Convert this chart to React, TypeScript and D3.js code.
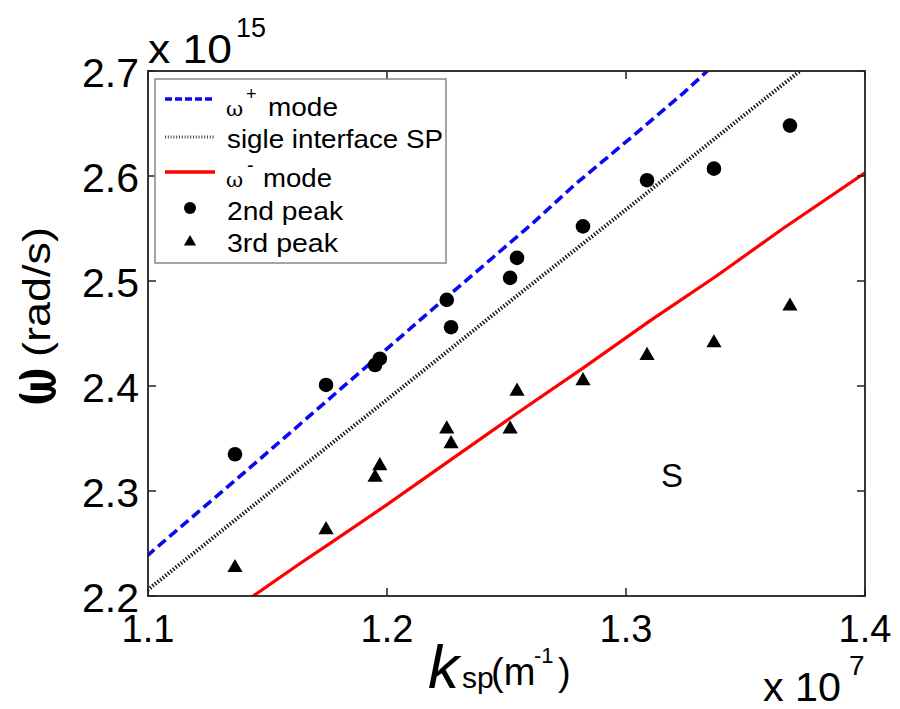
import React from "react";
import * as d3 from "d3";

// ---- data (k in 1e7 m^-1, omega in 1e15 rad/s) ----
const plusK = [1.09, 1.1, 1.14, 1.18, 1.22, 1.26, 1.2787, 1.2987, 1.324, 1.334, 1.34];
const plusW = [2.219, 2.239, 2.317, 2.396, 2.475, 2.553, 2.592, 2.63, 2.679, 2.7, 2.712];

const singleK = [1.09, 1.1, 1.15, 1.2, 1.25, 1.3, 1.35, 1.3728, 1.38];
const singleW = [2.188, 2.206, 2.297, 2.387, 2.478, 2.568, 2.659, 2.7, 2.713];

const minusK = [1.14, 1.144, 1.1636, 1.1774, 1.2, 1.225, 1.2544, 1.282, 1.31, 1.338, 1.3657, 1.4];
const minusW = [2.194, 2.2, 2.231, 2.252, 2.287, 2.327, 2.374, 2.417, 2.462, 2.505, 2.55, 2.603];

const peak2K = [1.1364, 1.1745, 1.195, 1.197, 1.225, 1.2268, 1.2515, 1.2544, 1.282, 1.3088, 1.3368, 1.3686];
const peak2W = [2.335, 2.401, 2.42, 2.426, 2.482, 2.456, 2.503, 2.522, 2.552, 2.596, 2.607, 2.648];

const peak3K = [1.1364, 1.1745, 1.195, 1.197, 1.225, 1.2268, 1.2515, 1.2544, 1.282, 1.3088, 1.3368, 1.3686];
const peak3W = [2.227, 2.263, 2.313, 2.324, 2.359, 2.345, 2.359, 2.395, 2.405, 2.429, 2.441, 2.476];

const xTicks = [1.1, 1.2, 1.3, 1.4];
const yTicks = [2.2, 2.3, 2.4, 2.5, 2.6, 2.7];

const legendLabels = ["mode", "sigle interface SP", "mode", "2nd peak", "3rd peak"];

const FONT = "'Liberation Sans', Arial, sans-serif";

export default function App() {
  const left = 148, right = 865, top = 71, bottom = 596;
  const x = d3.scaleLinear().domain([1.1, 1.4]).range([left, right]);
  const y = d3.scaleLinear().domain([2.2, 2.7]).range([bottom, top]);
  const line = d3
    .line<[number, number]>()
    .x((d) => x(d[0]))
    .y((d) => y(d[1]));
  const zip = (a: number[], b: number[]) => a.map((v, i) => [v, b[i]] as [number, number]);
  const tri = d3.symbol().type(d3.symbolTriangle).size(100)()!;

  const tickLen = 8;
  const legRows = [99, 137, 172, 208, 242];
  const legBase = [116, 148, 187, 220, 252];

  return (
    <svg
      width={900}
      height={709}
      style={{ position: "absolute", left: 0, top: 0, background: "#fff" }}
      fontFamily={FONT}
    >
      <rect x={0} y={0} width={900} height={709} fill="#fff" />
      <defs>
        <clipPath id="plotclip">
          <rect x={left} y={top} width={right - left} height={bottom - top} />
        </clipPath>
      </defs>

      {/* curves */}
      <g clipPath="url(#plotclip)" fill="none">
        <path d={line(zip(singleK, singleW))!} stroke="#111" strokeWidth={4} strokeDasharray="1.4 1.9" />
        <path d={line(zip(plusK, plusW))!} stroke="#0a0aee" strokeWidth={3.6} strokeDasharray="10 5" />
        <path d={line(zip(minusK, minusW))!} stroke="#ff0000" strokeWidth={3.2} />
      </g>

      {/* markers */}
      {peak2K.map((k, i) => (
        <circle key={"c" + i} cx={x(k)} cy={y(peak2W[i])} r={7.3} fill="#000" />
      ))}
      {peak3K.map((k, i) => (
        <path key={"t" + i} d={tri} transform={`translate(${x(k)},${y(peak3W[i])})`} fill="#000" />
      ))}

      {/* axes frame */}
      <rect x={left} y={top} width={right - left} height={bottom - top} fill="none" stroke="#222" strokeWidth={1.8} />
      {xTicks.map((t) => (
        <g key={"xt" + t}>
          <line x1={x(t)} x2={x(t)} y1={bottom} y2={bottom - tickLen} stroke="#222" strokeWidth={1.5} />
          <line x1={x(t)} x2={x(t)} y1={top} y2={top + tickLen} stroke="#222" strokeWidth={1.5} />
          <text x={x(t)} y={642} fontSize={38} textAnchor="middle" fill="#000">
            {t.toFixed(1)}
          </text>
        </g>
      ))}
      {yTicks.map((t) => (
        <g key={"yt" + t}>
          <line x1={left} x2={left + tickLen} y1={y(t)} y2={y(t)} stroke="#222" strokeWidth={1.5} />
          <line x1={right} x2={right - tickLen} y1={y(t)} y2={y(t)} stroke="#222" strokeWidth={1.5} />
          <text x={139} y={y(t) + 16} fontSize={41} textAnchor="end" fill="#000">
            {t.toFixed(1)}
          </text>
        </g>
      ))}

      {/* exponent labels */}
      <text x={148} y={63} fontSize={41} fill="#000" textLength={84} lengthAdjust="spacingAndGlyphs">x 10</text>
      <text x={236} y={37} fontSize={27} fill="#000">15</text>
      <text x={763} y={701} fontSize={41} fill="#000" textLength={78} lengthAdjust="spacingAndGlyphs">x 10</text>
      <text x={849} y={675} fontSize={28} fill="#000">7</text>

      {/* S annotation */}
      <text x={672} y={487} fontSize={33} textAnchor="middle" fill="#000">S</text>

      {/* x axis label */}
      <text x={428} y={688} fontSize={62} fontStyle="italic" fill="#000">k</text>
      <text x={462} y={688} fontSize={30} fill="#000">sp</text>
      <text x={491} y={685} fontSize={38} fill="#000">(m</text>
      <text x={534} y={663} fontSize={22} fill="#000">-1</text>
      <text x={558} y={685} fontSize={38} fill="#000">)</text>

      {/* y axis label */}
      <text
        transform="translate(56,405) rotate(-90) scale(1,1.35)"
        fontSize={52}
        fontWeight="bold"
        fontFamily="'DejaVu Serif', serif"
        fill="#000"
        textLength={37}
        lengthAdjust="spacingAndGlyphs"
      >
        ω
      </text>
      <text
        transform="translate(50,357) rotate(-90)"
        fontSize={38}
        fill="#000"
        textLength={130}
        lengthAdjust="spacingAndGlyphs"
      >
        (rad/s)
      </text>

      {/* legend */}
      <rect x={155} y={79} width={291} height={184} fill="#fff" stroke="#888" strokeWidth={1.5} />
      <line x1={165} x2={215} y1={legRows[0]} y2={legRows[0]} stroke="#0a0aee" strokeWidth={3.5} strokeDasharray="7 3" />
      <line x1={165} x2={215} y1={legRows[1]} y2={legRows[1]} stroke="#444" strokeWidth={3} strokeDasharray="1 1.8" />
      <line x1={165} x2={215} y1={legRows[2]} y2={legRows[2]} stroke="#ff0000" strokeWidth={3.5} />
      <circle cx={190} cy={legRows[3]} r={6} fill="#000" />
      <path d={tri} transform={`translate(190,${legRows[4]}) scale(0.8)`} fill="#000" />

      <text x={226} y={legBase[0]} fontSize={21} fontFamily="'DejaVu Serif', serif" fill="#000">ω</text>
      <text x={246} y={legBase[0] - 16} fontSize={18} fill="#000">+</text>
      <text x={268} y={legBase[0]} fontSize={25} fill="#000" textLength={70} lengthAdjust="spacingAndGlyphs">{legendLabels[0]}</text>
      <text x={227} y={legBase[1]} fontSize={25} fill="#000" textLength={216} lengthAdjust="spacingAndGlyphs">{legendLabels[1]}</text>
      <text x={226} y={legBase[2]} fontSize={21} fontFamily="'DejaVu Serif', serif" fill="#000">ω</text>
      <text x={247} y={legBase[2] - 15} fontSize={20} fill="#000">-</text>
      <text x={263} y={legBase[2]} fontSize={25} fill="#000" textLength={69} lengthAdjust="spacingAndGlyphs">{legendLabels[2]}</text>
      <text x={227} y={legBase[3]} fontSize={25} fill="#000" textLength={116} lengthAdjust="spacingAndGlyphs">{legendLabels[3]}</text>
      <text x={227} y={legBase[4]} fontSize={25} fill="#000" textLength={111} lengthAdjust="spacingAndGlyphs">{legendLabels[4]}</text>
    </svg>
  );
}
